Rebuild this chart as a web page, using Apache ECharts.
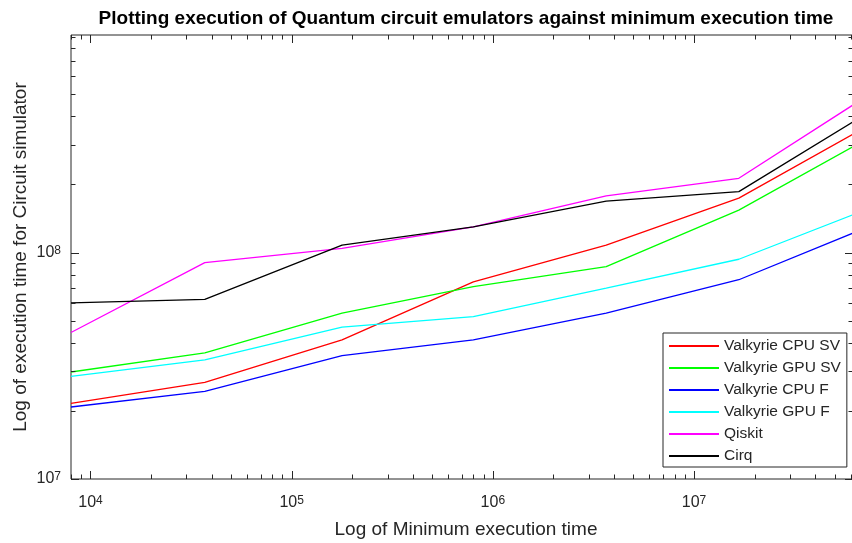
<!DOCTYPE html>
<html>
<head>
<meta charset="utf-8">
<script src="https://cdn.jsdelivr.net/npm/echarts@6/dist/echarts.min.js"></script>
<style>
html,body{margin:0;padding:0;background:#fff;}
#chart{width:852px;height:543px;}
</style>
</head>
<body>
<div id="chart"></div>
<script>
// ---- data ----
var minExecTime = [8000, 37000, 178000, 800000, 3660000, 16700000, 61700000];
var valkyrieCpuSV = [2.16e7, 2.67e7, 4.12e7, 7.43e7, 1.08e8, 1.74e8, 3.34e8];
var valkyrieGpuSV = [2.97e7, 3.61e7, 5.40e7, 7.08e7, 8.67e7, 1.54e8, 2.94e8];
var valkyrieCpuF  = [2.08e7, 2.44e7, 3.51e7, 4.12e7, 5.40e7, 7.59e7, 1.22e8];
var valkyrieGpuF  = [2.84e7, 3.36e7, 4.69e7, 5.22e7, 6.97e7, 9.35e7, 1.47e8];
var qiskit        = [4.44e7, 9.04e7, 1.045e8, 1.30e8, 1.78e8, 2.13e8, 4.49e8];
var cirq          = [6.00e7, 6.21e7, 1.08e8, 1.30e8, 1.69e8, 1.86e8, 3.78e8];
var seriesNames = ['Valkyrie CPU SV', 'Valkyrie GPU SV', 'Valkyrie CPU F', 'Valkyrie GPU F', 'Qiskit', 'Cirq'];
var xMajorTicks = [1e4, 1e5, 1e6, 1e7];
var yMajorTicks = [1e7, 1e8];
var X_MIN = 8000, X_MAX = 61700000;
var Y_MIN = 1e7, Y_MAX = 9.15e8;

// ---- build ----
var seriesValues = [valkyrieCpuSV, valkyrieGpuSV, valkyrieCpuF, valkyrieGpuF, qiskit, cirq];
var colors = ['#ff0000', '#00ff00', '#0000ff', '#00ffff', '#ff00ff', '#000000'];
var AX = '#262626';
var FONT = 'Liberation Sans, Arial, Helvetica, sans-serif';

function pair(xs, ys) { return xs.map(function (x, i) { return [x, ys[i]]; }); }

// tick list: kind 0 = x major, 1 = x minor, 2 = y major, 3 = y minor
var tickData = [];
function addTicks(majors, lo, hi, isX) {
  var d0 = Math.floor(Math.log10(lo)), d1 = Math.ceil(Math.log10(hi));
  for (var d = d0; d <= d1; d++) {
    for (var m = 1; m <= 9; m++) {
      var v = m * Math.pow(10, d);
      if (v < lo * 0.9999 || v > hi * 1.0001) continue;
      var major = (m === 1 && majors.indexOf(v) >= 0);
      if (isX) tickData.push([v, Y_MIN, major ? 0 : 1]);
      else tickData.push([X_MIN, v, major ? 2 : 3]);
    }
  }
}
addTicks(xMajorTicks, X_MIN, X_MAX, true);
addTicks(yMajorTicks, Y_MIN, Y_MAX, false);

function powLabel(v) {
  var l = Math.log10(v), e = Math.round(l);
  if (Math.abs(l - e) > 1e-6) return '';
  return '{b|10}{e|' + e + '}';
}
var richPow = {
  b: { fontSize: 16, lineHeight: 16, verticalAlign: 'bottom', color: AX, fontFamily: FONT },
  e: { fontSize: 12, lineHeight: 12, verticalAlign: 'top', padding: [0, 0, 8, 0], color: AX, fontFamily: FONT }
};

var series = seriesNames.map(function (n, i) {
  return {
    name: n, type: 'line', data: pair(minExecTime, seriesValues[i]),
    symbol: 'none', showSymbol: false, smooth: false,
    lineStyle: { color: colors[i], width: 1.3 }, itemStyle: { color: colors[i] },
    z: 3
  };
});
series.push({
  type: 'custom', name: 'ticks', data: tickData, silent: true, clip: false, z: 5,
  encode: { x: 0, y: 1 },
  renderItem: function (params, api) {
    var cs = params.coordSys;
    var kind = api.value(2);
    var st = { stroke: AX, lineWidth: 1, fill: null };
    var ch = [];
    if (kind < 2) {
      var len = kind === 0 ? 8 : 4.5;
      var px = Math.round(api.coord([api.value(0), Y_MIN])[0]) + 0.5;
      var b = cs.y + cs.height, t = cs.y;
      ch.push({ type: 'line', shape: { x1: px, y1: b, x2: px, y2: b - len }, style: st });
      ch.push({ type: 'line', shape: { x1: px, y1: t, x2: px, y2: t + len }, style: st });
    } else {
      var len2 = kind === 2 ? 8 : 4.5;
      var py = Math.round(api.coord([X_MIN, api.value(1)])[1]) + 0.5;
      var l = cs.x, r = cs.x + cs.width;
      ch.push({ type: 'line', shape: { x1: l, y1: py, x2: l + len2, y2: py }, style: st });
      ch.push({ type: 'line', shape: { x1: r, y1: py, x2: r - len2, y2: py }, style: st });
    }
    return { type: 'group', children: ch };
  }
});

var chart = echarts.init(document.getElementById('chart'), null, { renderer: 'canvas' });
chart.setOption({
  animation: false,
  backgroundColor: '#ffffff',
  textStyle: { fontFamily: FONT },
  title: {
    text: 'Plotting execution of Quantum circuit emulators against minimum execution time',
    left: 461, top: 4, textAlign: 'center',
    textStyle: { fontFamily: FONT, fontWeight: 'bold', fontSize: 19, color: '#000' }
  },
  legend: {
    data: seriesNames, orient: 'vertical', left: 663, top: 333,
    padding: [5, 6, 3, 5], itemGap: 6, itemWidth: 50, itemHeight: 14,
    backgroundColor: '#ffffff', borderColor: AX, borderWidth: 1, borderRadius: 0,
    itemStyle: { opacity: 0 },
    textStyle: { fontFamily: FONT, fontSize: 15.5, color: AX, lineHeight: 16 },
    selectedMode: false
  },
  grid: { left: 71, top: 35, right: -1, bottom: 64, outerBoundsMode: 'none', containLabel: false,
          show: true, borderColor: AX, borderWidth: 1, backgroundColor: 'transparent' },
  xAxis: {
    type: 'log', logBase: 10, min: X_MIN, max: X_MAX,
    name: 'Log of Minimum execution time', nameLocation: 'middle', nameGap: 41,
    nameTextStyle: { fontFamily: FONT, fontSize: 19, color: AX, padding: [0, 0, 0, 8] },
    axisLine: { show: false }, axisTick: { show: false }, splitLine: { show: false }, minorTick: { show: false },
    axisLabel: { formatter: powLabel, rich: richPow, margin: 16, color: AX, showMinLabel: true, showMaxLabel: true }
  },
  yAxis: {
    type: 'log', logBase: 10, min: Y_MIN, max: Y_MAX,
    name: 'Log of execution time for Circuit simulator', nameLocation: 'middle', nameGap: 41,
    nameMoveOverlap: false,
    nameTextStyle: { fontFamily: FONT, fontSize: 19, color: AX },
    axisLine: { show: false }, axisTick: { show: false }, splitLine: { show: false }, minorTick: { show: false },
    axisLabel: { formatter: powLabel, rich: richPow, margin: 10, color: AX }
  },
  series: series
});
</script>
</body>
</html>
